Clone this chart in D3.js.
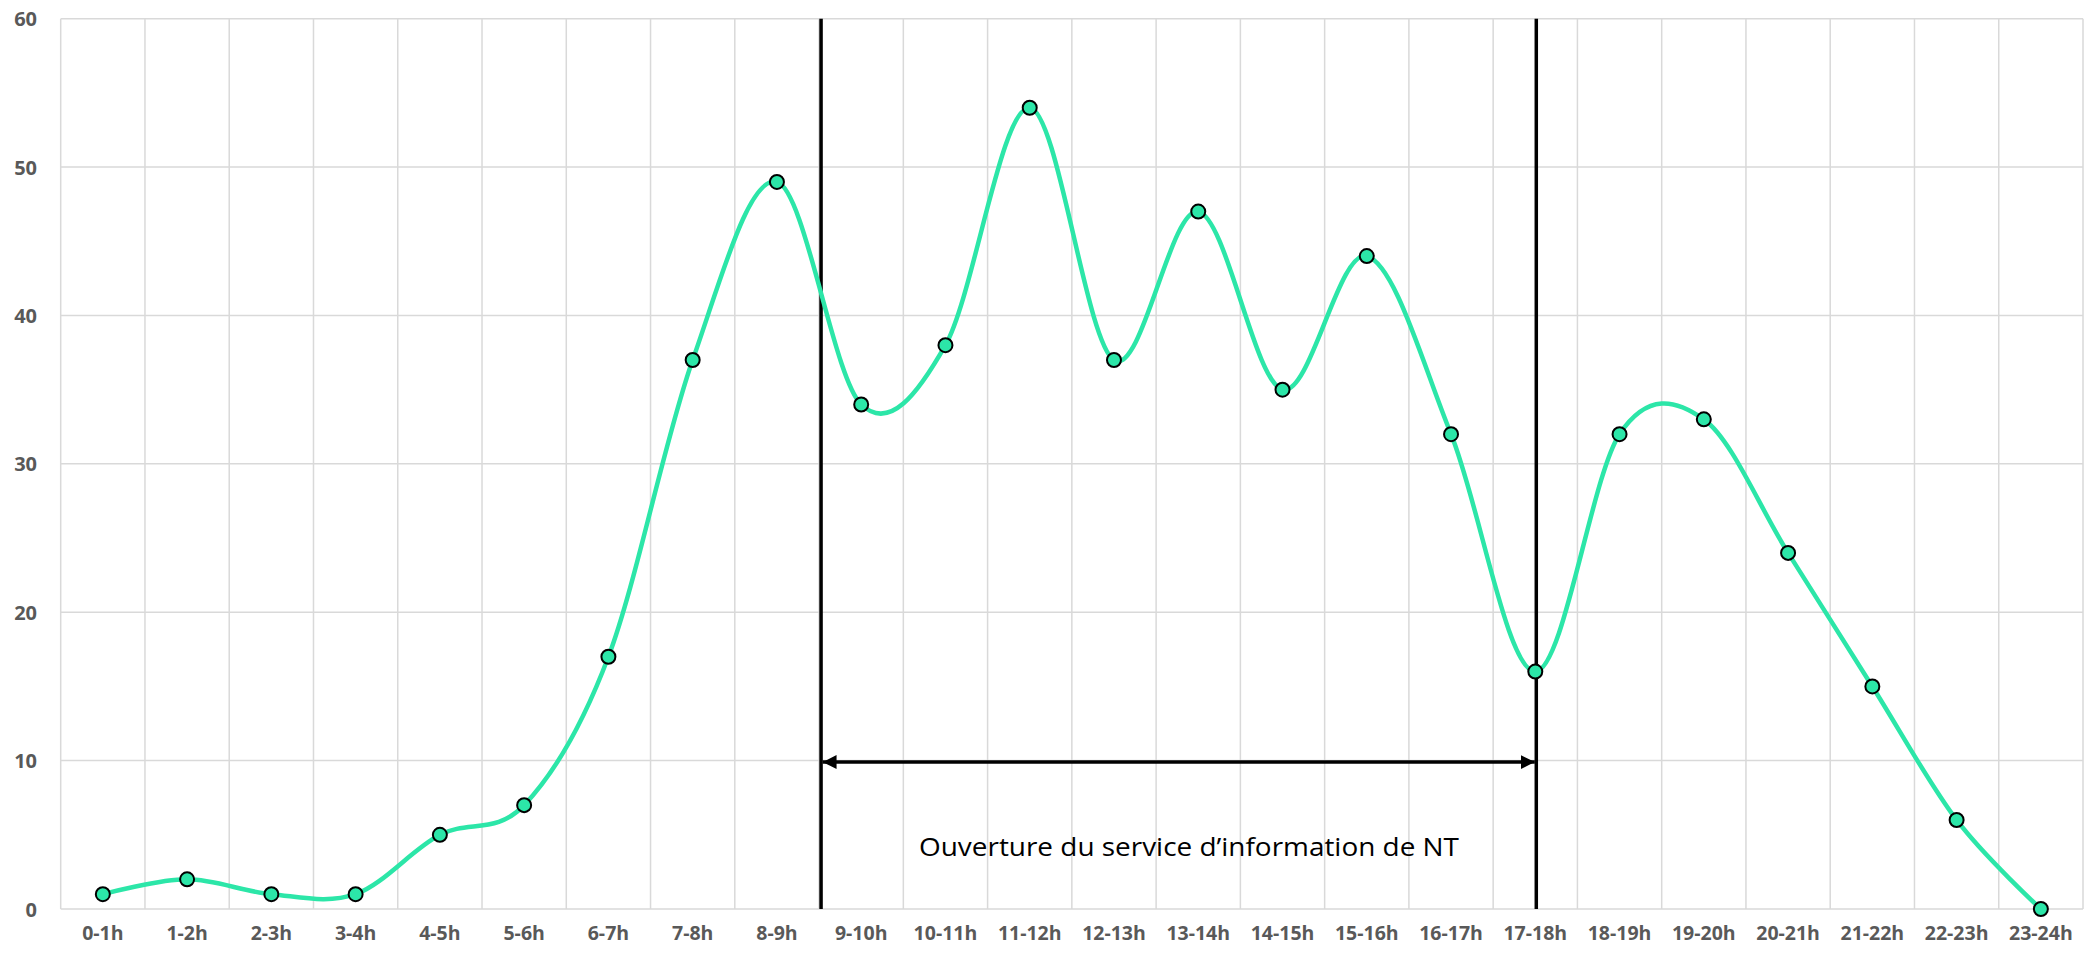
<!DOCTYPE html>
<html>
<head>
<meta charset="utf-8">
<script src="https://cdn.jsdelivr.net/npm/d3@7"></script>
<style>
  html, body { margin: 0; padding: 0; background: #fff; }
  svg { display: block; }
</style>
</head>
<body>
<svg id="chart" width="2097" height="953"></svg>
<script>
const categories = ["0-1h","1-2h","2-3h","3-4h","4-5h","5-6h","6-7h","7-8h","8-9h","9-10h","10-11h","11-12h","12-13h","13-14h","14-15h","15-16h","16-17h","17-18h","18-19h","19-20h","20-21h","21-22h","22-23h","23-24h"];
const values = [1,2,1,1,5,7,17,37,49,34,38,54,37,47,35,44,32,16,32,33,24,15,6,0];
const yTicks = [0,10,20,30,40,50,60];
const annotationText = "Ouverture du service d\u2019information de NT";
const openStart = "9-10h";   // left marker line (start of band)
const openEnd = "17-18h";    // right marker line (band centre)
const arrowValue = 10;

const W = 2097, H = 953;
const margin = {left: 60.7, right: 14, top: 18.7, bottom: 44};
const svg = d3.select("#chart");

const x = d3.scaleBand().domain(categories).range([margin.left, W - margin.right]).padding(0);
const y = d3.scaleLinear().domain([0, 60]).range([H - margin.bottom, margin.top]);
const cx = d => x(d) + x.bandwidth() / 2;

const gridColor = "#d9d9d9";
// horizontal gridlines
svg.append("g").selectAll("line").data(yTicks).join("line")
  .attr("x1", margin.left).attr("x2", W - margin.right)
  .attr("y1", d => y(d)).attr("y2", d => y(d))
  .attr("stroke", gridColor).attr("stroke-width", 1.5);
// vertical gridlines at band boundaries
const bounds = categories.map(c => x(c)).concat([W - margin.right]);
svg.append("g").selectAll("line").data(bounds).join("line")
  .attr("x1", d => d).attr("x2", d => d)
  .attr("y1", y(60)).attr("y2", y(0))
  .attr("stroke", gridColor).attr("stroke-width", 1.5);

// y axis labels
const yAxis = d3.axisLeft(y).tickValues(yTicks).tickSize(0).tickPadding(0);
const gy = svg.append("g").attr("transform", `translate(${37},0)`).call(yAxis);
gy.select(".domain").remove();
gy.selectAll("text").attr("font-family", "'Open Sans', sans-serif").attr("font-weight", "bold")
  .attr("font-size", 20).attr("fill", "#595959").attr("dy", "0.35em");

// x axis labels
const xAxis = d3.axisBottom(x).tickSize(0).tickPadding(0);
const gx = svg.append("g").attr("transform", `translate(0,${y(0) + 24})`).call(xAxis);
gx.select(".domain").remove();
gx.selectAll("text").attr("font-family", "'Open Sans', sans-serif").attr("font-weight", "bold")
  .attr("font-size", 19.5).attr("fill", "#595959").attr("dy", "0.35em");

// annotation lines
const lx1 = x(openStart) + 2;
const lx2 = cx(openEnd) + 1;
svg.append("g").selectAll("line").data([lx1, lx2]).join("line")
  .attr("x1", d => d).attr("x2", d => d)
  .attr("y1", y(60)).attr("y2", y(0))
  .attr("stroke", "#000").attr("stroke-width", 3.5);

// double arrow
const defs = svg.append("defs");
defs.append("marker").attr("id", "ah").attr("viewBox", "0 0 10 10")
  .attr("refX", 10).attr("refY", 5).attr("markerWidth", 14).attr("markerHeight", 17)
  .attr("markerUnits", "userSpaceOnUse").attr("orient", "auto-start-reverse")
  .append("path").attr("d", "M0,0 L10,5 L0,10 Z").attr("fill", "#000");
const ay = y(arrowValue) + 1.5;
svg.append("line")
  .attr("x1", lx1 + 1.5).attr("x2", lx2 - 1.5).attr("y1", ay).attr("y2", ay)
  .attr("stroke", "#000").attr("stroke-width", 3.5)
  .attr("marker-start", "url(#ah)").attr("marker-end", "url(#ah)");

svg.append("text").attr("x", 1189).attr("y", 856)
  .attr("text-anchor", "middle")
  .attr("font-family", "'Open Sans', sans-serif").attr("font-size", 26)
  .attr("textLength", 540).attr("lengthAdjust", "spacingAndGlyphs")
  .attr("fill", "#000").text(annotationText);

// smoothed line
const lineColor = "#2ce6a8";
const line = d3.line().x((d, i) => cx(categories[i])).y(d => y(d)).curve(d3.curveCatmullRom.alpha(0));
svg.append("path").datum(values).attr("d", line)
  .attr("fill", "none").attr("stroke", lineColor).attr("stroke-width", 4.5);

// markers
svg.append("g").selectAll("circle").data(values).join("circle")
  .attr("cx", (d, i) => cx(categories[i])).attr("cy", d => y(d))
  .attr("r", 7).attr("fill", lineColor).attr("stroke", "#000").attr("stroke-width", 2);
</script>
</body>
</html>
